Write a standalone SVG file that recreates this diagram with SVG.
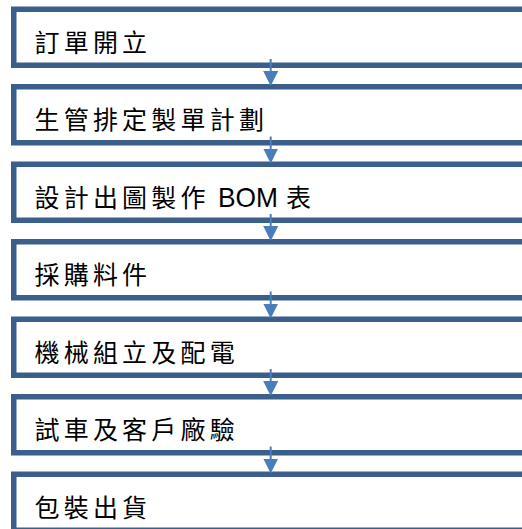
<svg xmlns="http://www.w3.org/2000/svg" width="522" height="529" viewBox="0 0 522 529">
<style>
.box{fill:#ffffff;stroke:#3a5f8b;stroke-width:5.5}
.lbl{font-family:"Noto Sans CJK TC","Noto Sans CJK SC",sans-serif;font-size:25px;fill:#000}
.lat{font-family:"Liberation Sans",Arial,sans-serif;font-size:28px;fill:#000}
.conn{stroke:#4a7ebb;stroke-width:2;fill:none}
</style>
<defs>
<marker id="ah" viewBox="0 0 15 15" refX="3" refY="7.5" markerWidth="15" markerHeight="15" markerUnits="userSpaceOnUse" orient="auto">
<path d="M0,0 L15,7.5 L0,15 z" fill="#4a7ebb"/>
</marker>
</defs>
<rect width="522" height="529" fill="#ffffff"/>
<g id="n1"><rect class="box" x="13.75" y="9.25" width="520" height="56"/>
<text class="lbl" x="34.5 63.7 92.9 122.1" y="51.5">訂單開立</text></g>
<g id="n2"><rect class="box" x="13.75" y="86.75" width="520" height="56"/>
<text class="lbl" x="34.5 63.7 92.9 122.1 151.3 180.5 209.7 238.9" y="129">生管排定製單計劃</text></g>
<g id="n3"><rect class="box" x="13.75" y="164.25" width="520" height="56"/>
<text class="lbl" x="34.5 63.7 92.9 122.1 151.3 180.5" y="206.5">設計出圖製作</text>
<text class="lat" x="218" y="206.5" textLength="60" lengthAdjust="spacingAndGlyphs">BOM</text>
<text class="lbl" x="286" y="206.5">表</text></g>
<g id="n4"><rect class="box" x="13.75" y="241.75" width="520" height="56"/>
<text class="lbl" x="34.5 63.7 92.9 122.1" y="284">採購料件</text></g>
<g id="n5"><rect class="box" x="13.75" y="319.25" width="520" height="56"/>
<text class="lbl" x="34.5 63.7 92.9 122.1 151.3 180.5 209.7" y="361.5">機械組立及配電</text></g>
<g id="n6"><rect class="box" x="13.75" y="396.75" width="520" height="56"/>
<text class="lbl" x="34.5 63.7 92.9 122.1 151.3 180.5 209.7" y="439">試車及客戶廠驗</text></g>
<g id="n7"><rect class="box" x="13.75" y="474.25" width="520" height="56"/>
<text class="lbl" x="34.5 63.7 92.9 122.1" y="516.5">包裝出貨</text></g>
<g id="connectors">
<line class="conn" x1="270.7" y1="59" x2="270.7" y2="74" marker-end="url(#ah)"/>
<line class="conn" x1="270.7" y1="136.5" x2="270.7" y2="151.5" marker-end="url(#ah)"/>
<line class="conn" x1="270.7" y1="214" x2="270.7" y2="229" marker-end="url(#ah)"/>
<line class="conn" x1="270.7" y1="291.5" x2="270.7" y2="306.5" marker-end="url(#ah)"/>
<line class="conn" x1="270.7" y1="369" x2="270.7" y2="384" marker-end="url(#ah)"/>
<line class="conn" x1="270.7" y1="446.5" x2="270.7" y2="461.5" marker-end="url(#ah)"/>
</g>
</svg>
